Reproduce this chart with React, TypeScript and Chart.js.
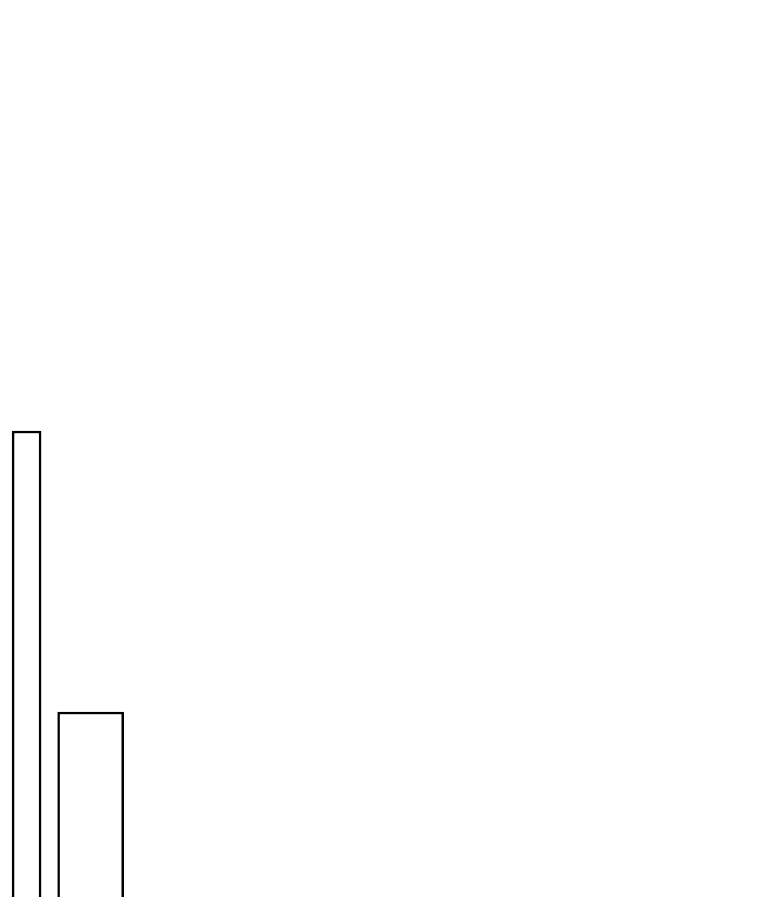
import { useEffect, useRef } from "react";
import Chart from "chart.js/auto";

// bin centres on the x axis and bar heights
const binCenters = [1.125, 5];
const binValues = [57.7, 29.6];
const seriesNames = ["A", "B"];

export default function App() {
  const canvasRef = useRef<HTMLCanvasElement>(null);
  const chartRef = useRef<Chart | null>(null);

  useEffect(() => {
    if (!canvasRef.current) return;
    if (chartRef.current) chartRef.current.destroy();

    chartRef.current = new Chart(canvasRef.current, {
      type: "bar",
      data: {
        datasets: [
          {
            label: seriesNames[0],
            data: [{ x: binCenters[0], y: binValues[0] }],
            barThickness: 29,
            backgroundColor: "#ffffff",
            borderColor: "#000000",
            borderWidth: 2.5,
            grouped: false,
          },
          {
            label: seriesNames[1],
            data: [{ x: binCenters[1], y: binValues[1] }],
            barThickness: 66,
            backgroundColor: "#ffffff",
            borderColor: "#000000",
            borderWidth: 2.5,
            grouped: false,
          },
        ],
      },
      options: {
        animation: false,
        responsive: true,
        maintainAspectRatio: false,
        layout: { padding: 0 },
        plugins: {
          legend: { display: false },
          tooltip: { enabled: false },
        },
        scales: {
          x: { type: "linear", min: 0, max: 45, offset: false, display: false },
          y: { min: 0, max: 100, display: false },
        },
      },
    });

    return () => {
      if (chartRef.current) {
        chartRef.current.destroy();
        chartRef.current = null;
      }
    };
  }, []);

  return (
    <div style={{ position: "relative", width: "100%", height: 1000 }}>
      <canvas ref={canvasRef}></canvas>
    </div>
  );
}
